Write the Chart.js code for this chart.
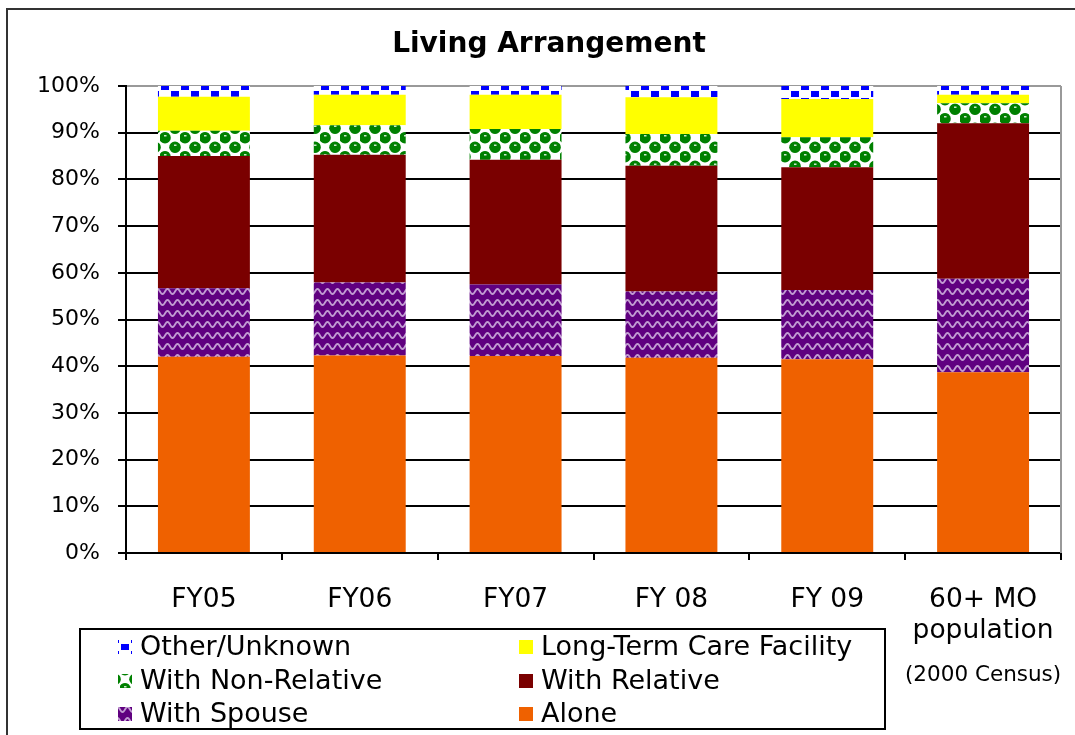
<!DOCTYPE html>
<html lang="en">
<head>
<meta charset="UTF-8">
<title>Living Arrangement</title>
<script src="https://cdn.jsdelivr.net/npm/chart.js"></script>
<style>
  html, body { margin: 0; padding: 0; background: #fff; }
</style>
</head>
<body>
<canvas id="livingChart" width="1075" height="735"></canvas>
<script>
const chartTitle = 'Living Arrangement';
const categories = ['FY05', 'FY06', 'FY07', 'FY 08', 'FY 09', ['60+ MO', 'population']];
const censusNote = '(2000 Census)';
const yTicks = [0, 10, 20, 30, 40, 50, 60, 70, 80, 90, 100];

// percent of clients, bottom of stack first
const alone = [42.0, 42.3, 42.2, 41.8, 41.5, 38.7];
const withSpouse = [14.7, 15.6, 15.3, 14.2, 14.8, 20.0];
const withRelative = [28.3, 27.4, 26.7, 26.9, 26.3, 33.3];
const withNonRelative = [5.4, 6.3, 6.6, 6.8, 6.4, 4.3];
const longTermCare = [7.3, 6.5, 7.3, 7.9, 8.2, 1.8];
const otherUnknown = [2.3, 1.9, 1.9, 2.4, 2.8, 1.9];

const FONT = "'DejaVu Sans', sans-serif";
Chart.defaults.font.family = FONT;
Chart.defaults.color = '#000';

function tile(w, h, paint) {
  const c = document.createElement('canvas');
  c.width = w; c.height = h;
  const g = c.getContext('2d');
  paint(g);
  return document.createElement('canvas').getContext('2d').createPattern(c, 'repeat');
}

const checkBlue = tile(20, 14, g => {
  g.fillStyle = '#fff'; g.fillRect(0, 0, 20, 14);
  g.fillStyle = '#0000ff';
  g.fillRect(1, 0, 8, 6);
  g.fillRect(11, 7, 8, 6);
});

const greenBalls = tile(20, 19, g => {
  g.fillStyle = '#fff'; g.fillRect(0, 0, 20, 19);
  g.fillStyle = '#008000';
  [[5, 4.75], [15, 14.25], [-5, 14.25], [25, 14.25], [15, -4.75], [5, 23.75]].forEach(([x, y]) => {
    g.beginPath(); g.arc(x, y, 5.8, 0, Math.PI * 2); g.fill();
  });
  g.fillStyle = 'rgba(255,255,255,0.8)';
  [[4, 2], [14, 11.5]].forEach(([x, y]) => { g.fillRect(x, y, 2.5, 1.5); });
});

const purpleWaves = tile(10, 11, g => {
  g.fillStyle = '#600080'; g.fillRect(0, 0, 10, 11);
  g.strokeStyle = '#c39ed3';
  g.lineWidth = 1.9;
  g.beginPath();
  for (let x = -1; x <= 11; x += 0.5) {
    const y = 5.5 + 2.6 * Math.sin(x / 10 * Math.PI * 2);
    if (x === -1) g.moveTo(x, y); else g.lineTo(x, y);
  }
  g.stroke();
});

const datasets = [
  { label: 'Alone', data: alone, backgroundColor: '#ef6100' },
  { label: 'With Spouse', data: withSpouse, backgroundColor: purpleWaves },
  { label: 'With Relative', data: withRelative, backgroundColor: '#7a0000' },
  { label: 'With Non-Relative', data: withNonRelative, backgroundColor: greenBalls },
  { label: 'Long-Term Care Facility', data: longTermCare, backgroundColor: '#ffff00' },
  { label: 'Other/Unknown', data: otherUnknown, backgroundColor: checkBlue }
];

const decor = {
  id: 'decor',
  afterDraw(chart) {
    const ctx = chart.ctx;
    const area = chart.chartArea;
    ctx.save();

    // plot frame, right side
    ctx.strokeStyle = '#999';
    ctx.lineWidth = 2;
    ctx.beginPath();
    ctx.moveTo(area.right, area.top);
    ctx.lineTo(area.right, area.bottom);
    ctx.stroke();

    // outer chart frame
    ctx.strokeStyle = '#333';
    ctx.strokeRect(7, 9, 1200, 900);

    // title
    ctx.fillStyle = '#000';
    ctx.font = 'bold 28px ' + FONT;
    ctx.textAlign = 'center';
    ctx.textBaseline = 'middle';
    ctx.fillText(chartTitle, 549, 45);

    // census note under last category
    ctx.font = '21.5px ' + FONT;
    ctx.fillText(censusNote, chart.scales.x.getPixelForValue(5), 675);

    // legend box
    ctx.strokeStyle = '#000';
    ctx.lineWidth = 2;
    ctx.strokeRect(80, 629, 805, 100);
    const order = chart.data.datasets.slice().reverse();
    const colX = [118, 519];
    const rowY = [647, 681, 714];
    ctx.font = '27px ' + FONT;
    ctx.textAlign = 'left';
    order.forEach((ds, i) => {
      const x = colX[i % 2];
      const y = rowY[Math.floor(i / 2)];
      ctx.fillStyle = ds.backgroundColor;
      ctx.fillRect(x, y - 7, 14, 14);
      ctx.fillStyle = '#000';
      ctx.fillText(ds.label, x + 22, y + 1);
    });
    ctx.restore();
  }
};

new Chart(document.getElementById('livingChart'), {
  type: 'bar',
  data: { labels: categories, datasets: datasets },
  options: {
    responsive: false,
    animation: false,
    layout: { padding: { top: 86, right: 14, bottom: 82, left: 0 } },
    datasets: { bar: { barPercentage: 0.59, categoryPercentage: 1.0 } },
    plugins: { legend: { display: false }, tooltip: { enabled: false }, title: { display: false } },
    scales: {
      x: {
        stacked: true,
        grid: { display: true, drawOnChartArea: false, color: '#000', lineWidth: 2, tickLength: 7, offset: true },
        border: { color: '#000', width: 2 },
        ticks: { font: { size: 26.5, lineHeight: 1.15 }, color: '#000', padding: 25, maxRotation: 0, autoSkip: false },
        afterFit: s => { s.height = 100; s.paddingLeft = 0; s.paddingRight = 0; }
      },
      y: {
        stacked: true,
        min: 0,
        max: 100,
        afterBuildTicks: s => { s.ticks = yTicks.map(v => ({ value: v })); },
        ticks: { callback: v => v + '%', font: { size: 22 }, color: '#000', padding: 18 },
        grid: {
          color: c => (c.tick && c.tick.value === 100 ? '#999' : '#000'),
          tickColor: '#000',
          lineWidth: 2,
          tickLength: 8
        },
        border: { color: '#000', width: 2 },
        afterFit: s => { s.width = 126; s.paddingTop = 0; s.paddingBottom = 0; }
      }
    }
  },
  plugins: [decor]
});
</script>
</body>
</html>
